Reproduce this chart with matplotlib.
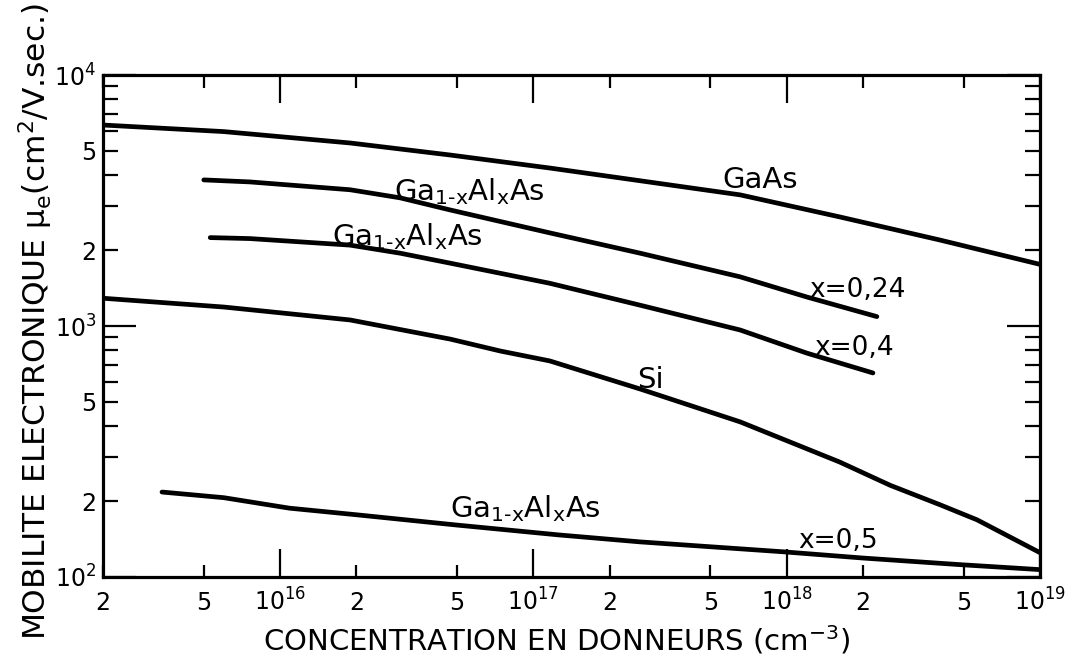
import matplotlib
matplotlib.use("Agg")
import matplotlib.pyplot as plt

plt.rcParams['font.family'] = ['DejaVu Sans']
plt.rcParams['mathtext.default'] = 'regular'

# ---- data ----
gaas_x = [2e15, 6e15, 1.89e16, 4.69e16, 1.16e17, 2.64e17, 6.55e17, 1.62e18, 4.03e18, 1e19]
gaas_y = [6320, 5950, 5360, 4800, 4260, 3790, 3330, 2720, 2200, 1760]

al024_x = [5e15, 7.6e15, 1.89e16, 2.98e16, 4.69e16, 1.16e17, 2.64e17, 6.55e17, 1.2e18, 2.27e18]
al024_y = [3820, 3750, 3490, 3240, 2900, 2350, 1950, 1570, 1305, 1090]

al04_x = [5.3e15, 7.6e15, 1.89e16, 2.98e16, 4.69e16, 1.16e17, 2.64e17, 6.55e17, 1.2e18, 2.19e18]
al04_y = [2250, 2230, 2100, 1950, 1780, 1480, 1210, 964, 780, 650]

si_x = [2e15, 6e15, 1.89e16, 4.69e16, 7.4e16, 1.16e17, 2.64e17, 6.55e17, 1.62e18, 2.56e18, 4.03e18, 5.64e18, 1e19]
si_y = [1290, 1190, 1057, 887, 795, 726, 561, 415, 287, 232, 194, 169, 125]

al05_x = [3.42e15, 6e15, 1.09e16, 2e16, 5e16, 1.27e17, 2.64e17, 9.7e17, 2e18, 4.83e18, 1e19]
al05_y = [218, 207, 188, 177, 161, 147, 138, 126, 119, 112, 107]

x_major = [1e16, 1e17, 1e18, 1e19]
x_major_labels = ['$10^{16}$', '$10^{17}$', '$10^{18}$', '$10^{19}$']
x_minor = [2e15, 5e15, 2e16, 5e16, 2e17, 5e17, 2e18, 5e18]
x_minor_labels = ['2', '5', '2', '5', '2', '5', '2', '5']

y_major = [1e2, 1e3, 1e4]
y_major_labels = ['$10^2$', '$10^3$', '$10^4$']
y_minor = [m * d for d in (1e2, 1e3) for m in range(2, 10)]
y_minor_labels = [('2' if m == 2 else '5' if m == 5 else '') for d in (1e2, 1e3) for m in range(2, 10)]

alloy = r'Ga$_{1\text{-}x}$Al$_x$As'

# ---- figure ----
fig = plt.figure(figsize=(10.68, 6.59), dpi=100)
ax = fig.add_axes([103/1068, 1-577/659, (1040-103)/1068, (577-75)/659])
ax.set_xscale('log')
ax.set_yscale('log')
ax.set_xlim(2e15, 1e19)
ax.set_ylim(1e2, 1e4)

lw = 3.4
for xs, ys in [(gaas_x, gaas_y), (al024_x, al024_y), (al04_x, al04_y), (si_x, si_y), (al05_x, al05_y)]:
    ax.plot(xs, ys, color='black', lw=lw, solid_capstyle='round', solid_joinstyle='round')

for s in ax.spines.values():
    s.set_linewidth(2.3)

ax.set_xticks(x_major, x_major_labels)
ax.set_xticks(x_minor, x_minor_labels, minor=True)
ax.set_yticks(y_major, y_major_labels)
ax.set_yticks(y_minor, y_minor_labels, minor=True)

ax.tick_params(which='both', direction='in', top=True, right=True, colors='black',
               labelsize=17, width=1.6)
ax.tick_params(axis='x', which='major', length=20, pad=24)
ax.tick_params(axis='x', which='minor', length=9, pad=24)
ax.tick_params(axis='y', which='major', length=24, pad=5)
ax.tick_params(axis='y', which='minor', length=11, pad=5)
for lab in ax.get_xticklabels(which='both'):
    lab.set_verticalalignment('baseline')

txt = dict(color='black', fontsize=21, va='baseline', ha='center')
ax.text(7.85e17, 3550, 'GaAs', **txt)
ax.text(5.6e16, 3180, alloy, **txt)
ax.text(3.17e16, 2100, alloy, **txt)
ax.text(9.3e16, 173, alloy, **txt)
ax.text(2.9e17, 566, 'Si', **txt)
small = dict(color='black', fontsize=19, va='baseline', ha='center')
ax.text(1.9e18, 1305, 'x=0,24', **small)
ax.text(1.85e18, 766, 'x=0,4', **small)
ax.text(1.6e18, 131, 'x=0,5', **small)

fig.text(557/1068, 1-640/659, 'CONCENTRATION EN DONNEURS (cm$^{-3}$)', ha='center', va='center',
         fontsize=21, color='black')
fig.text(36/1068, 1-322/659, 'MOBILITE ELECTRONIQUE $\\mu_e$(cm$^2$/V.sec.)', ha='center', va='center',
         rotation=90, fontsize=22.5, color='black')

fig.savefig('out.png', dpi=100)
